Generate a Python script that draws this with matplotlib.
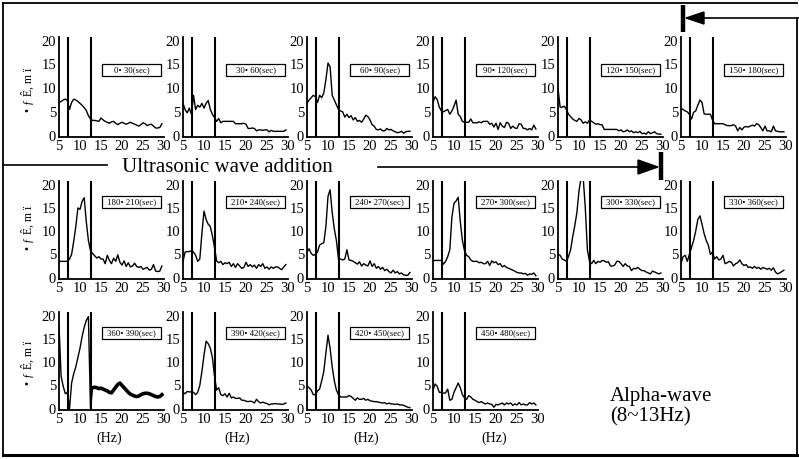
import matplotlib
matplotlib.use("Agg")
import matplotlib.pyplot as plt
from matplotlib.patches import Polygon, Rectangle
import numpy as np

plt.rcParams['font.family'] = ['Liberation Serif', 'DejaVu Serif']

W, H = 799, 459

# frequency axis of every spectrum (Hz)
freq = np.arange(5.0, 30.0, 0.5)

# recording windows (sec)
win_start = [0, 30, 60, 90, 120, 150, 180, 210, 240, 270, 300, 330, 360, 390, 420, 450]
win_end = [30, 60, 90, 120, 150, 180, 210, 240, 270, 300, 330, 360, 390, 420, 450, 480]

# power spectra, one list per window
p_0_30 = [6.9, 7.2, 7.5, 7.7, 7.4, 5.5, 7.0, 7.7, 7.5, 7.2,
          6.8, 6.4, 5.9, 5.3, 4.2, 3.5, 3.2, 3.2, 3.1, 3.0,
          3.7, 3.3, 3.0, 2.8, 2.6, 2.9, 3.0, 2.6, 2.3, 2.6,
          2.8, 2.6, 2.4, 2.6, 2.8, 2.6, 2.4, 2.2, 2.0, 2.3,
          2.7, 2.5, 2.1, 2.3, 2.4, 2.0, 1.6, 1.6, 1.7, 2.5]
p_30_60 = [6.8, 5.5, 4.8, 5.8, 4.5, 8.5, 5.5, 6.4, 6.0, 6.8,
           5.8, 6.8, 7.4, 5.5, 4.5, 3.8, 3.0, 3.6, 2.7, 3.0,
           3.0, 3.0, 3.0, 3.0, 3.0, 2.5, 2.5, 2.5, 2.5, 2.6,
           2.4, 1.5, 1.5, 1.6, 1.5, 1.0, 1.2, 1.2, 1.1, 1.2,
           1.2, 0.8, 1.1, 0.9, 0.9, 0.9, 0.9, 0.9, 0.9, 1.2]
p_60_90 = [6.8, 7.5, 8.0, 8.5, 8.2, 7.0, 8.5, 8.0, 9.0, 11.8,
           15.3, 14.5, 8.5, 7.5, 6.5, 5.5, 5.2, 5.0, 3.9, 4.5,
           3.8, 4.2, 3.3, 3.8, 3.0, 3.2, 2.8, 3.5, 4.3, 4.0,
           3.3, 2.3, 2.0, 1.3, 1.2, 1.4, 1.0, 1.0, 1.5, 1.2,
           1.3, 1.0, 0.8, 0.6, 0.7, 0.9, 0.5, 0.8, 0.9, 0.9]
p_90_120 = [7.0, 8.2, 7.6, 6.0, 5.2, 5.0, 5.3, 5.5, 4.5, 5.2,
            6.2, 7.5, 4.5, 4.0, 3.0, 2.8, 2.8, 2.8, 3.5, 2.7,
            2.7, 2.7, 2.9, 2.7, 3.0, 3.0, 3.0, 2.4, 2.6, 1.8,
            2.6, 1.3, 2.7, 2.0, 1.7, 2.8, 2.6, 1.5, 2.0, 1.6,
            1.5, 2.5, 2.4, 1.5, 1.5, 1.2, 1.5, 1.2, 2.2, 1.4]
p_120_150 = [10.0, 6.0, 6.0, 6.2, 5.5, 4.5, 4.0, 3.5, 3.2, 3.0,
             3.6, 3.3, 2.6, 2.9, 2.6, 3.3, 3.0, 2.7, 2.4, 2.5,
             2.3, 2.3, 1.3, 1.3, 1.3, 1.3, 1.3, 1.3, 1.3, 1.0,
             1.2, 0.8, 0.9, 1.2, 0.8, 1.0, 0.6, 0.8, 0.6, 0.9,
             0.4, 0.5, 0.3, 0.8, 0.4, 0.6, 0.8, 0.4, 0.3, 0.3]
p_150_180 = [5.7, 5.5, 5.2, 5.0, 4.5, 3.5, 4.9, 5.2, 6.4, 7.5,
             7.0, 4.6, 4.5, 4.5, 4.5, 3.3, 2.5, 2.5, 2.5, 2.5,
             2.5, 2.3, 2.1, 2.1, 2.1, 2.3, 2.0, 1.0, 1.7, 1.2,
             1.8, 1.9, 1.8, 2.0, 2.2, 2.0, 2.5, 2.3, 1.7, 1.0,
             2.0, 1.0, 1.0, 0.8, 2.0, 1.0, 0.9, 0.8, 0.8, 0.8]
p_180_210 = [3.5, 3.5, 3.5, 3.5, 3.5, 4.0, 5.0, 7.8, 11.0, 15.0,
             14.7, 16.4, 17.2, 12.0, 8.0, 5.8, 5.2, 4.7, 4.2, 4.5,
             4.0, 4.0, 3.0, 4.8, 3.7, 3.0, 4.2, 3.5, 4.9, 3.3,
             2.7, 3.6, 2.4, 3.2, 2.3, 2.5, 3.1, 2.4, 2.2, 2.4,
             1.8, 2.0, 2.2, 1.6, 1.8, 2.8, 1.4, 1.3, 1.4, 2.5]
p_210_240 = [3.5, 5.5, 5.6, 5.6, 5.8, 5.5, 4.8, 3.5, 4.0, 9.5,
             14.3, 12.5, 11.5, 11.0, 9.0, 6.5, 3.6, 3.2, 3.5, 2.8,
             3.2, 3.0, 3.3, 2.4, 3.0, 2.2, 3.0, 2.5, 2.0, 2.2,
             3.3, 2.4, 2.8, 2.3, 2.7, 2.0, 2.8, 2.4, 3.0, 2.0,
             2.3, 1.8, 2.3, 2.0, 2.3, 2.3, 2.0, 1.7, 2.3, 2.8]
p_240_270 = [5.5, 6.2, 5.2, 4.8, 5.0, 5.5, 7.0, 7.3, 7.5, 11.0,
             17.5, 18.9, 14.0, 10.5, 8.0, 4.0, 4.0, 3.8, 4.0, 6.0,
             3.8, 3.7, 3.5, 3.2, 2.9, 3.4, 2.5, 3.0, 2.7, 2.5,
             3.6, 2.4, 3.0, 2.0, 2.4, 1.8, 2.2, 1.5, 1.8, 1.3,
             1.0, 1.6, 1.0, 1.3, 0.8, 1.0, 0.6, 0.5, 0.5, 1.1]
p_270_300 = [3.6, 3.7, 3.7, 3.7, 3.7, 2.9, 3.5, 4.5, 6.0, 13.0,
             16.0, 16.5, 17.3, 12.0, 8.0, 5.8, 4.8, 4.5, 3.8, 3.5,
             3.5, 3.5, 3.2, 3.3, 3.0, 3.0, 3.5, 2.6, 3.6, 3.2,
             3.4, 2.8, 3.0, 2.3, 2.6, 2.2, 2.0, 1.8, 1.6, 1.4,
             1.1, 1.0, 1.0, 0.8, 0.9, 0.5, 0.8, 0.7, 1.0, 0.4]
p_300_330 = [5.0, 4.8, 4.0, 3.8, 3.5, 4.5, 6.0, 8.8, 11.2, 14.0,
             18.7, 21.5, 21.5, 15.0, 6.0, 3.5, 3.0, 3.7, 3.0, 3.5,
             3.3, 3.7, 3.6, 3.3, 3.4, 2.5, 2.5, 2.7, 3.5, 3.5,
             3.0, 2.4, 3.0, 2.5, 2.4, 1.5, 2.0, 1.9, 2.2, 1.8,
             1.5, 1.5, 1.2, 1.0, 0.8, 1.4, 1.2, 1.0, 0.8, 1.0]
p_330_360 = [3.0, 4.5, 4.8, 3.5, 5.0, 6.5, 8.0, 10.0, 12.5, 13.3,
             11.5, 9.5, 8.0, 7.0, 5.0, 5.5, 4.0, 4.5, 3.8, 4.0,
             4.8, 3.0, 3.2, 3.5, 3.3, 2.5, 3.0, 3.2, 3.8, 3.0,
             2.6, 2.8, 2.2, 2.3, 2.0, 2.4, 2.0, 2.2, 1.8, 2.2,
             2.0, 1.8, 2.0, 1.6, 2.1, 1.2, 0.8, 1.0, 1.3, 1.6]
p_360_390 = [18.0, 7.0, 4.8, 3.2, 3.5, 0.0, 5.5, 7.5, 9.0, 11.0,
             13.0, 15.5, 17.5, 19.0, 19.8, 0.0, 4.5, 4.6, 4.5, 4.3,
             4.4, 4.2, 4.0, 3.8, 3.5, 3.4, 4.0, 4.6, 5.2, 5.5,
             5.0, 4.5, 4.0, 3.5, 3.1, 2.9, 2.7, 2.6, 2.7, 3.0,
             3.2, 3.3, 3.3, 3.2, 3.0, 2.8, 2.6, 2.5, 2.6, 3.0]
p_390_420 = [3.5, 3.2, 3.7, 3.6, 3.6, 3.5, 3.0, 3.5, 5.0, 8.0,
             11.5, 14.5, 14.0, 13.0, 11.0, 7.0, 4.0, 4.5, 3.0, 2.8,
             3.2, 2.5, 3.3, 2.3, 2.5, 2.2, 2.2, 2.3, 1.8, 1.8,
             1.6, 1.5, 1.6, 1.5, 1.2, 2.0, 1.5, 1.2, 1.4, 1.2,
             1.1, 0.8, 1.0, 1.0, 1.1, 1.0, 1.0, 0.9, 1.0, 1.2]
p_420_450 = [4.8, 4.5, 4.0, 3.0, 3.0, 3.8, 4.2, 6.0, 8.0, 12.0,
             15.8, 13.0, 9.0, 6.0, 4.0, 3.0, 2.5, 2.5, 2.5, 2.5,
             2.8, 2.6, 2.2, 1.8, 2.3, 2.0, 2.0, 2.2, 1.8, 2.0,
             1.7, 1.6, 1.5, 1.5, 1.4, 1.3, 1.2, 1.3, 1.0, 1.2,
             1.0, 1.0, 0.9, 1.0, 0.8, 0.8, 0.7, 0.5, 0.3, 0.2]
p_450_480 = [4.0, 5.3, 4.8, 3.5, 3.5, 3.3, 3.4, 4.2, 1.8, 2.0,
             3.5, 4.5, 5.5, 4.5, 3.0, 2.3, 2.0, 2.8, 2.5, 2.0,
             1.8, 1.5, 1.3, 1.5, 1.2, 1.0, 1.2, 1.0, 0.9, 0.3,
             0.9, 0.8, 1.0, 1.2, 0.8, 1.2, 1.0, 1.2, 0.7, 1.0,
             0.8, 1.3, 0.8, 1.0, 0.8, 0.8, 1.3, 1.0, 1.2, 0.8]

spectra = [p_0_30, p_30_60, p_60_90, p_90_120, p_120_150, p_150_180,
           p_180_210, p_210_240, p_240_270, p_270_300, p_300_330, p_330_360,
           p_360_390, p_390_420, p_420_450, p_450_480]

# alpha band boundaries as drawn (Hz)
alpha_lo, alpha_hi = 7.25, 12.55

x_ticks = [5, 10, 15, 20, 25, 30]
y_ticks = [0, 5, 10, 15, 20]
y_label = "• ƒ Ê, m ï"

# panel grid in pixels
col_left = [59, 183, 307, 433, 558, 681]
row_span = [(37, 137), (181, 279), (312, 410)]
panel_w = 105
box_y = [13.8, 16.3, 16.3]

fig = plt.figure(figsize=(W / 100, H / 100), dpi=100)
fig.patch.set_facecolor('white')

for k, vals in enumerate(spectra):
    row, col = divmod(k, 6)
    top, bot = row_span[row]
    L = col_left[col]
    ax = fig.add_axes([L / W, 1 - bot / H, panel_w / W, (bot - top) / H])
    ax.set_facecolor('none')
    if k == 12:
        ax.plot(freq[:17], vals[:17], color='black', lw=1.0)
        ax.plot(freq[16:], vals[16:], color='black', lw=2.6, solid_joinstyle='round')
    else:
        ax.plot(freq, vals, color='black', lw=1.0)
    ax.axvline(alpha_lo, color='black', lw=1.5)
    ax.axvline(alpha_hi, color='black', lw=1.5)
    ax.set_xlim(5, 30)
    ax.set_ylim(-0.3, 20.8)
    ax.set_xticks(x_ticks)
    ax.set_yticks(y_ticks)
    ax.tick_params(length=0, labelsize=10.5, pad=2)
    for s in ('top', 'right'):
        ax.spines[s].set_visible(False)
    for s in ('left', 'bottom'):
        ax.spines[s].set_linewidth(1.3)
    yc = box_y[row]
    ax.add_patch(Rectangle((15.3, yc - 1.25), 13.9, 2.5, fc='white', ec='black', lw=0.9, zorder=3))
    ax.text(22.3, yc, f"{win_start[k]}• {win_end[k]}(sec)", ha='center', va='center',
            fontsize=6.3, zorder=4)

# overlay in pixel coordinates for frame, arrows and captions
ov = fig.add_axes([0, 0, 1, 1], zorder=10)
ov.set_xlim(0, W)
ov.set_ylim(H, 0)
ov.axis('off')
ov.patch.set_alpha(0)

# frame
ov.plot([3, 3], [3, 455], color='black', lw=1.3)
ov.plot([3, 797], [3, 3], color='black', lw=1.3)
ov.plot([797, 797], [18, 455], color='black', lw=1.3)
ov.plot([3, 797], [455, 455], color='black', lw=2.2)

# start marker of the stimulation period (top right)
ov.plot([703, 799], [18, 18], color='black', lw=1.2)
ov.add_patch(Polygon([[686, 18], [704, 12], [704, 24]], closed=True, fc='black', ec='black'))
ov.plot([683, 683], [5, 32], color='black', lw=3.2, solid_capstyle='butt')

# stimulation period line and end marker
ov.plot([3, 107], [165, 165], color='black', lw=1.2)
ov.text(122, 168, "Ultrasonic wave addition", fontsize=15, ha='left', va='center')
ov.plot([378, 640], [167, 167], color='black', lw=1.2)
ov.add_patch(Polygon([[658, 167], [638, 160], [638, 174]], closed=True, fc='black', ec='black'))
ov.plot([661, 661], [152, 180], color='black', lw=3.2, solid_capstyle='butt')

# rotated axis captions
for yc in (90, 228, 363):
    ov.text(28, yc, y_label, rotation=90, fontsize=8.5, ha='center', va='center')

# frequency unit under the bottom row
for xc in (109, 237, 366, 494):
    ov.text(xc, 438, "(Hz)", fontsize=10, ha='center', va='center')

ov.text(610, 397, "Alpha-wave", fontsize=15, ha='left', va='center')
ov.text(610, 417, "(8~13Hz)", fontsize=15, ha='left', va='center')

fig.savefig("out.png", dpi=100)
